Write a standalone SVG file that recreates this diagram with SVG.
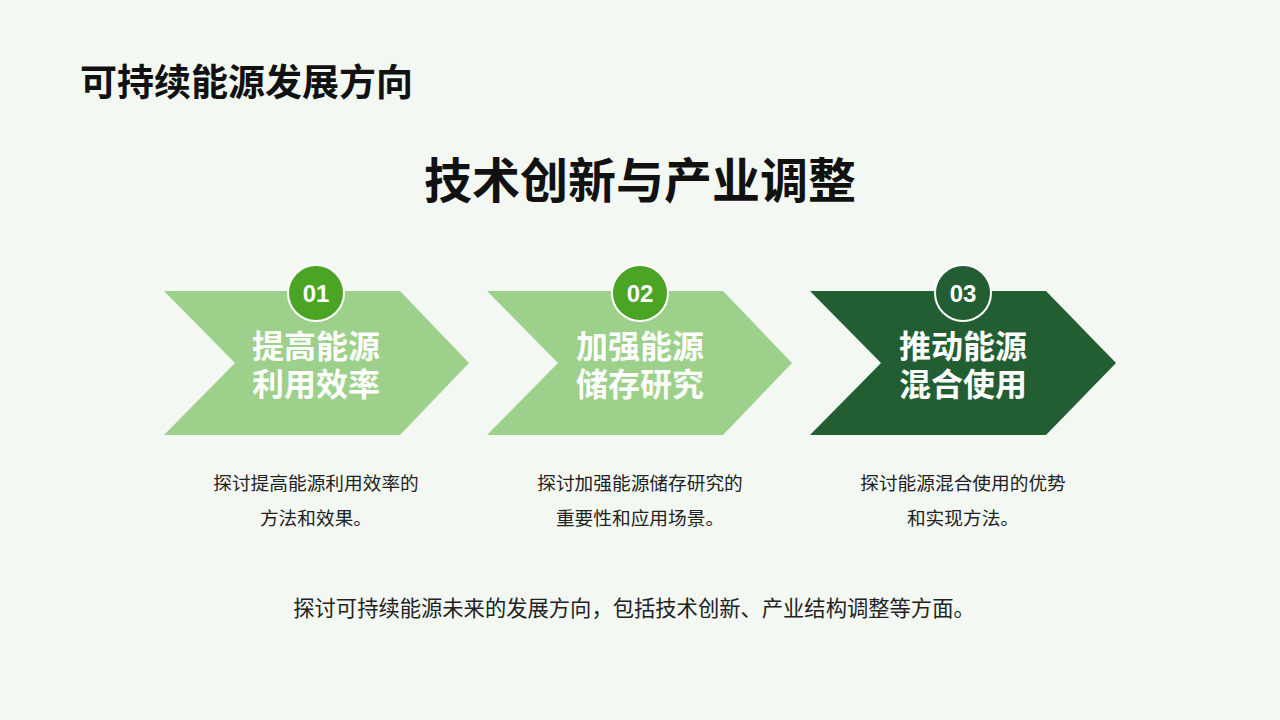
<svg xmlns="http://www.w3.org/2000/svg" width="1280" height="720" viewBox="0 0 1280 720">
<style>
text{font-family:"Liberation Sans","Noto Sans CJK SC",sans-serif}
.light{fill:#9dd08a}.dark{fill:#235e33}
.c1{fill:#4ca424;stroke:#fff;stroke-width:2}.c3{fill:#235e33;stroke:#fff;stroke-width:2}
.num{fill:#fff;font-size:24px;font-weight:bold;text-anchor:middle}
.lab{fill:#fff;font-size:32px;font-weight:bold;text-anchor:middle}
.desc{fill:#222;font-size:18.7px;text-anchor:middle}
</style>
<rect width="1280" height="720" fill="#f3f8f3"/>
<text x="80" y="96" font-size="37" font-weight="bold" fill="#111">可持续能源发展方向</text>
<text x="640" y="198" font-size="48" font-weight="bold" fill="#111" text-anchor="middle">技术创新与产业调整</text>
<g id="node1">
<polygon class="light" points="164,291 400,291 469,363 400,435 164,435 235,363"/>
<circle class="c1" cx="316" cy="293" r="28"/>
<text class="num" x="316" y="302">01</text>
<text class="lab" x="316" y="358">提高能源</text>
<text class="lab" x="316" y="396">利用效率</text>
<text class="desc" x="316" y="490">探讨提高能源利用效率的</text>
<text class="desc" x="316" y="525">方法和效果。</text>
</g>
<g id="node2">
<polygon class="light" points="487,291 723,291 792,363 723,435 487,435 558,363"/>
<circle class="c1" cx="640" cy="293" r="28"/>
<text class="num" x="640" y="302">02</text>
<text class="lab" x="640" y="358">加强能源</text>
<text class="lab" x="640" y="396">储存研究</text>
<text class="desc" x="640" y="490">探讨加强能源储存研究的</text>
<text class="desc" x="640" y="525">重要性和应用场景。</text>
</g>
<g id="node3">
<polygon class="dark" points="810,291 1046,291 1116,363 1046,435 810,435 881,363"/>
<circle class="c3" cx="963" cy="293" r="28"/>
<text class="num" x="963" y="302">03</text>
<text class="lab" x="963" y="358">推动能源</text>
<text class="lab" x="963" y="396">混合使用</text>
<text class="desc" x="963" y="490">探讨能源混合使用的优势</text>
<text class="desc" x="963" y="525">和实现方法。</text>
</g>
<g id="connectors"></g>
<text x="634" y="616" font-size="21.3" fill="#222" text-anchor="middle">探讨可持续能源未来的发展方向，包括技术创新、产业结构调整等方面。</text>
</svg>
